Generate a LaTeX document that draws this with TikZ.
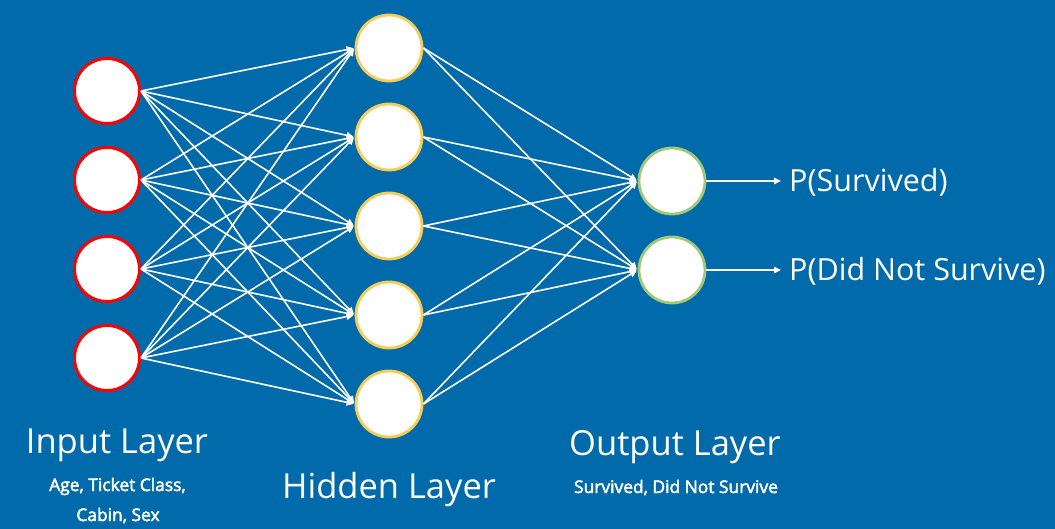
\documentclass[tikz,border=0pt]{standalone}
\usepackage{fontspec}
\setmainfont{Open Sans}
\newfontfamily\semibold[FakeBold=2.5]{Open Sans}
\usetikzlibrary{arrows.meta}
\definecolor{bg}{HTML}{006AAA}
\definecolor{inred}{HTML}{FF0000}
\definecolor{hidyel}{HTML}{F8CD55}
\definecolor{outgrn}{HTML}{A2C97A}
\begin{document}
\begin{tikzpicture}[x=1pt,y=-1pt,
 neuron/.style={circle,fill=white,inner sep=0pt},
 inneuron/.style={neuron,draw=inred,line width=3pt,minimum size=65pt},
 hidneuron/.style={neuron,draw=hidyel,line width=2.8pt,minimum size=66pt},
 outneuron/.style={neuron,draw=outgrn,line width=2.8pt,minimum size=66pt},
 conn/.style={draw=white,line width=1.6pt,-{Triangle[length=7pt,width=6.5pt]},shorten >=1pt},
 title/.style={text=white,font=\fontsize{34.5}{38}\selectfont,inner sep=0pt,anchor=base},
 sub/.style={text=white,font=\semibold\fontsize{17.4}{20}\selectfont,inner sep=0pt,anchor=base},
 plabel/.style={text=white,font=\fontsize{30.5}{34}\selectfont,inner sep=0pt,anchor=base west}]
\fill[bg] (0,0) rectangle (1055,529);
\useasboundingbox (0,0) rectangle (1055,529);
% input layer
\foreach \k/\y in {1/91,2/180,3/269,4/358}
  \node[inneuron] (i\k) at (107,\y) {};
% hidden layer
\foreach \k/\y in {1/48,2/137,3/226,4/315,5/404}
  \node[hidneuron] (h\k) at (389,\y) {};
% output layer
\node[outneuron] (o1) at (672,181) {};
\node[outneuron] (o2) at (672,270) {};
% connections
\foreach \a in {1,...,4}
  \foreach \b in {1,...,5}
    \draw[conn] (i\a.east) -- (h\b.west);
\foreach \b in {1,...,5}
  \foreach \c in {1,2}
    \draw[conn] (h\b.east) -- (o\c.west);
% output arrows and labels
\coordinate (e1) at (781,181);
\coordinate (e2) at (781,270);
\draw[conn,shorten >=0pt] (o1.east) -- (e1);
\draw[conn,shorten >=0pt] (o2.east) -- (e2);
\node[plabel] (p1) at (789,192) {P(Survived)};
\node[plabel] (p2) at (789,281) {P(Did Not Survive)};
% layer captions
\node[title] (tin) at (117,453) {Input Layer};
\node[sub] (sin1) at (117.5,491) {Age, Ticket Class,};
\node[sub] (sin2) at (118,521) {Cabin, Sex};
\node[title] (thid) at (389,498) {Hidden Layer};
\node[title] (tout) at (675,455) {Output Layer};
\node[sub] (sout) at (676,493) {Survived, Did Not Survive};
\end{tikzpicture}
\end{document}
